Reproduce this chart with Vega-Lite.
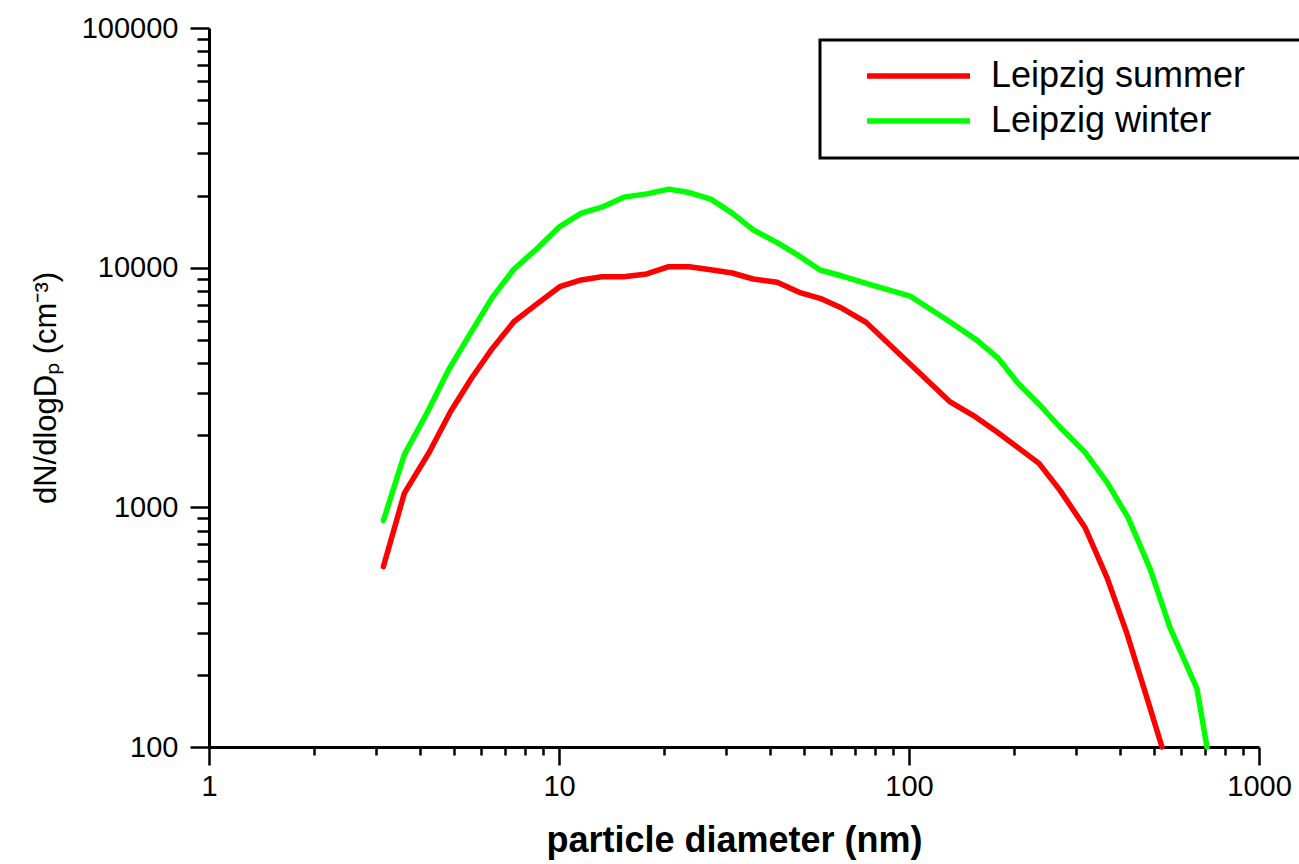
{
  "$schema": "https://vega.github.io/schema/vega-lite/v6.json",
  "width": 1050,
  "height": 719,
  "autosize": {"type": "none"},
  "padding": {"left": 209, "top": 28, "right": 40, "bottom": 117},
  "background": "white",
  "config": {
    "view": {"stroke": null},
    "font": "Liberation Sans",
    "legend": {"strokeColor": "black", "strokeWidth": 3, "fillColor": "white"}
  },
  "data": {
    "values": [
      {"d": 3.150, "v": 566, "series": "Leipzig summer"},
      {"d": 3.617, "v": 1147, "series": "Leipzig summer"},
      {"d": 4.262, "v": 1702, "series": "Leipzig summer"},
      {"d": 4.893, "v": 2500, "series": "Leipzig summer"},
      {"d": 5.617, "v": 3448, "series": "Leipzig summer"},
      {"d": 6.449, "v": 4603, "series": "Leipzig summer"},
      {"d": 7.43, "v": 5947, "series": "Leipzig summer"},
      {"d": 8.614, "v": 7031, "series": "Leipzig summer"},
      {"d": 10.05, "v": 8328, "series": "Leipzig summer"},
      {"d": 11.58, "v": 8884, "series": "Leipzig summer"},
      {"d": 13.25, "v": 9171, "series": "Leipzig summer"},
      {"d": 15.31, "v": 9171, "series": "Leipzig summer"},
      {"d": 17.81, "v": 9412, "series": "Leipzig summer"},
      {"d": 20.59, "v": 10097, "series": "Leipzig summer"},
      {"d": 23.56, "v": 10097, "series": "Leipzig summer"},
      {"d": 27.14, "v": 9808, "series": "Leipzig summer"},
      {"d": 31.25, "v": 9501, "series": "Leipzig summer"},
      {"d": 35.88, "v": 8970, "series": "Leipzig summer"},
      {"d": 42.02, "v": 8690, "series": "Leipzig summer"},
      {"d": 48.55, "v": 7893, "series": "Leipzig summer"},
      {"d": 55.72, "v": 7449, "series": "Leipzig summer"},
      {"d": 64.42, "v": 6767, "series": "Leipzig summer"},
      {"d": 75.43, "v": 5912, "series": "Leipzig summer"},
      {"d": 131.1, "v": 2753, "series": "Leipzig summer"},
      {"d": 152.4, "v": 2422, "series": "Leipzig summer"},
      {"d": 178.5, "v": 2062, "series": "Leipzig summer"},
      {"d": 235.2, "v": 1526, "series": "Leipzig summer"},
      {"d": 270.1, "v": 1177, "series": "Leipzig summer"},
      {"d": 318.4, "v": 824, "series": "Leipzig summer"},
      {"d": 367.9, "v": 509, "series": "Leipzig summer"},
      {"d": 419.6, "v": 297, "series": "Leipzig summer"},
      {"d": 478.7, "v": 160, "series": "Leipzig summer"},
      {"d": 528.2, "v": 100, "series": "Leipzig summer"},
      {"d": 3.150, "v": 881, "series": "Leipzig winter"},
      {"d": 3.617, "v": 1664, "series": "Leipzig winter"},
      {"d": 4.21, "v": 2500, "series": "Leipzig winter"},
      {"d": 4.83, "v": 3735, "series": "Leipzig winter"},
      {"d": 5.617, "v": 5399, "series": "Leipzig winter"},
      {"d": 6.449, "v": 7521, "series": "Leipzig winter"},
      {"d": 7.43, "v": 9847, "series": "Leipzig winter"},
      {"d": 8.614, "v": 11940, "series": "Leipzig winter"},
      {"d": 10.05, "v": 14840, "series": "Leipzig winter"},
      {"d": 11.58, "v": 16880, "series": "Leipzig winter"},
      {"d": 13.25, "v": 17880, "series": "Leipzig winter"},
      {"d": 15.31, "v": 19690, "series": "Leipzig winter"},
      {"d": 17.81, "v": 20320, "series": "Leipzig winter"},
      {"d": 20.59, "v": 21270, "series": "Leipzig winter"},
      {"d": 23.56, "v": 20580, "series": "Leipzig winter"},
      {"d": 27.14, "v": 19320, "series": "Leipzig winter"},
      {"d": 31.25, "v": 16880, "series": "Leipzig winter"},
      {"d": 35.88, "v": 14380, "series": "Leipzig winter"},
      {"d": 42.02, "v": 12720, "series": "Leipzig winter"},
      {"d": 48.55, "v": 11190, "series": "Leipzig winter"},
      {"d": 55.72, "v": 9780, "series": "Leipzig winter"},
      {"d": 64.42, "v": 9230, "series": "Leipzig winter"},
      {"d": 75.43, "v": 8600, "series": "Leipzig winter"},
      {"d": 100.7, "v": 7615, "series": "Leipzig winter"},
      {"d": 131.1, "v": 5930, "series": "Leipzig winter"},
      {"d": 156.2, "v": 4985, "series": "Leipzig winter"},
      {"d": 179.7, "v": 4194, "series": "Leipzig winter"},
      {"d": 204.9, "v": 3296, "series": "Leipzig winter"},
      {"d": 236.7, "v": 2667, "series": "Leipzig winter"},
      {"d": 270.1, "v": 2158, "series": "Leipzig winter"},
      {"d": 318.4, "v": 1696, "series": "Leipzig winter"},
      {"d": 367.9, "v": 1271, "series": "Leipzig winter"},
      {"d": 422.4, "v": 908, "series": "Leipzig winter"},
      {"d": 488.2, "v": 555, "series": "Leipzig winter"},
      {"d": 556.8, "v": 315, "series": "Leipzig winter"},
      {"d": 664.9, "v": 175, "series": "Leipzig winter"},
      {"d": 710.0, "v": 100, "series": "Leipzig winter"}
    ]
  },
  "layer": [
    {
      "mark": {"type": "line", "opacity": 0, "clip": false},
      "encoding": {
        "x": {
          "field": "d",
          "type": "quantitative",
          "scale": {"type": "log", "domain": [1, 1000], "nice": false},
          "axis": {
            "orient": "bottom",
            "title": null,
            "values": [2,3,4,5,6,7,8,9,20,30,40,50,60,70,80,90,200,300,400,500,600,700,800,900],
            "labels": false,
            "domain": false,
            "tickSize": 8,
            "tickWidth": 2.5,
            "tickColor": "black",
            "grid": false
          }
        },
        "y": {
          "field": "v",
          "type": "quantitative",
          "scale": {"type": "log", "domain": [100, 100000], "nice": false},
          "axis": {
            "orient": "left",
            "title": null,
            "values": [200,300,400,500,600,700,800,900,2000,3000,4000,5000,6000,7000,8000,9000,20000,30000,40000,50000,60000,70000,80000,90000],
            "labels": false,
            "domain": false,
            "tickSize": 12,
            "tickWidth": 2.5,
            "tickColor": "black",
            "grid": false
          }
        },
        "detail": {"field": "series", "type": "nominal"}
      }
    },
    {
      "mark": {"type": "line", "strokeWidth": 5.5, "strokeCap": "round", "strokeJoin": "round", "clip": false},
      "encoding": {
        "x": {
          "field": "d",
          "type": "quantitative",
          "axis": {
            "orient": "bottom",
            "title": "particle diameter (nm)",
            "titleFont": "Liberation Sans",
            "titleFontSize": 36,
            "titleFontWeight": "bold",
            "titleColor": "black",
            "titlePadding": 22,
            "values": [1, 10, 100, 1000],
            "labelExpr": "format(datum.value, 'd')",
            "labelFontSize": 29,
            "labelColor": "black",
            "labelPadding": 7,
            "labelFlush": false,
            "labelOverlap": false,
            "tickSize": 18,
            "tickWidth": 2.5,
            "tickColor": "black",
            "domainColor": "black",
            "domainWidth": 3,
            "grid": false
          }
        },
        "y": {
          "field": "v",
          "type": "quantitative",
          "axis": {
            "orient": "left",
            "title": "dN/dlogDₚ (cm⁻³)",
            "titleFont": "Liberation Sans",
            "titleFontSize": 31,
            "titleFontWeight": "normal",
            "titleColor": "black",
            "titlePadding": 19,
            "values": [100, 1000, 10000, 100000],
            "labelExpr": "format(datum.value, 'd')",
            "labelFontSize": 29,
            "labelColor": "black",
            "labelPadding": 12,
            "labelFlush": false,
            "labelOverlap": false,
            "tickSize": 19,
            "tickWidth": 2.5,
            "tickColor": "black",
            "domainColor": "black",
            "domainWidth": 3,
            "grid": false
          }
        },
        "color": {
          "field": "series",
          "type": "nominal",
          "scale": {"domain": ["Leipzig summer", "Leipzig winter"], "range": ["#ff0000", "#00ff00"]},
          "legend": {
            "title": null,
            "orient": "none",
            "legendX": 611,
            "legendY": 12,
            "direction": "vertical",
            "symbolType": "stroke",
            "symbolSize": 10609,
            "symbolStrokeWidth": 5.5,
            "symbolOffset": 25,
            "clipHeight": 34,
            "labelOffset": 18,
            "labelFontSize": 36,
            "labelFont": "Liberation Sans",
            "labelColor": "black",
            "labelLimit": 3000,
            "labelExpr": "datum.label + '\u00a0\u00a0\u2800'",
            "padding": 19,
            "rowPadding": 9
          }
        }
      }
    }
  ],
  "resolve": {"axis": {"x": "independent", "y": "independent"}}
}
